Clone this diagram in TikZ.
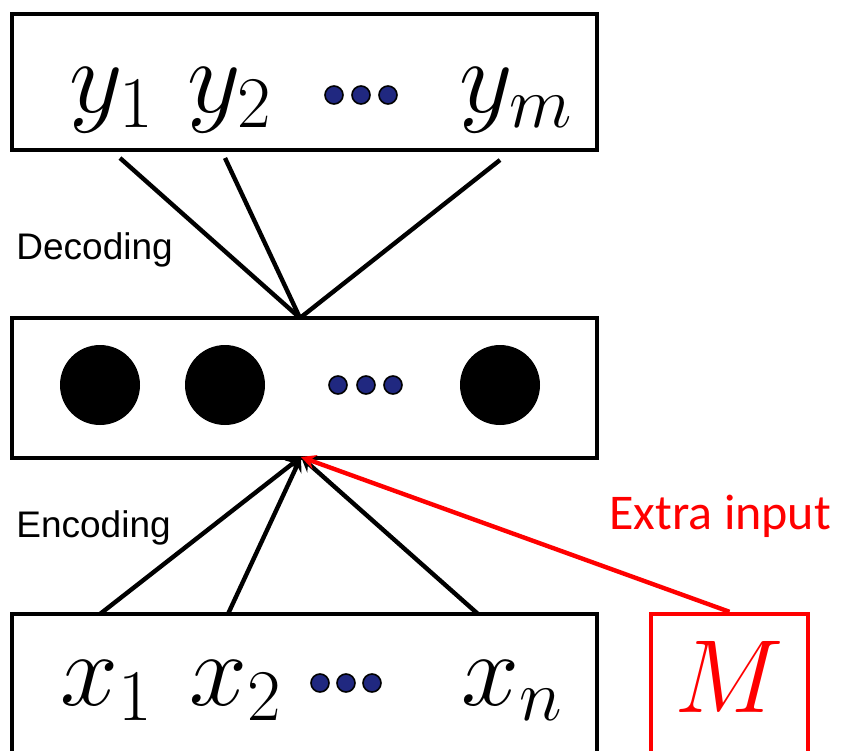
\RequirePackage{fix-cm}
\documentclass[tikz,border=0pt]{standalone}
\usepackage{fontspec}
\newfontfamily\labelfont{Liberation Sans}
\newfontfamily\extrafont{Carlito}
\usepackage{tikz}

\definecolor{dotblue}{RGB}{32,40,128}

\tikzset{
  layer/.style={draw, line width=2.4pt, minimum width=292.5pt, minimum height=68pt, inner sep=0pt},
  unit/.style={circle, fill=black, minimum size=40pt, inner sep=0pt},
  smalldot/.style={circle, draw=black, line width=0.8pt, fill=dotblue, minimum size=9pt, inner sep=0pt},
  sym/.style={font=\fontsize{52}{54}\selectfont, inner sep=0pt, anchor=base},
  link/.style={line width=2.2pt},
  tag/.style={font=\labelfont\fontsize{18.5}{20}\selectfont, anchor=west, inner sep=0pt},
}

\begin{document}
\begin{tikzpicture}[>=stealth, x=0.5pt, y=-0.5pt]
  \useasboundingbox (0,0) rectangle (843,751);
  \clip (0,0) rectangle (843,751);

  % Layers
  \node[layer] (out) at (304.5,82) {};
  \node[layer, minimum height=70pt] (hid) at (304.5,388) {};
  \node[layer, minimum height=75pt] (in) at (304.5,689) {};
  \node[layer, draw=red, line width=2.2pt, minimum width=78.5pt, minimum height=75pt] (mbox) at (729.5,689) {};

  % Output symbols
  \node[sym] (y1) at (112,112) {$y_1$};
  \node[sym] (y2) at (230,112) {$y_2$};
  \node[sym] (ym) at (516,112) {$y_m$};
  \foreach \x/\n in {334/a,361/b,388/c}
    \node[smalldot] (yd\n) at (\x,95) {};

  % Hidden units
  \node[unit] (h1) at (100,385) {};
  \node[unit] (h2) at (225,385) {};
  \node[unit] (hm) at (500,385) {};
  \foreach \x/\n in {338/a,366/b,393/c}
    \node[smalldot] (hd\n) at (\x,385) {};

  % Input symbols
  \node[sym] (x1) at (107,705) {$x_1$};
  \node[sym] (x2) at (236,705) {$x_2$};
  \node[sym] (xn) at (512,705) {$x_n$};
  \foreach \x/\n in {320/a,346/b,372/c}
    \node[smalldot] (xd\n) at (\x,683) {};
  \node[sym, text=red] (mlabel) at (729,712) {$M$};

  % Connectors
  \coordinate (top) at (300,318);
  \coordinate (bot) at (301,457);
  \coordinate (d1) at (120,158);
  \coordinate (d2) at (225,158);
  \coordinate (dm) at (500,160);
  \coordinate (e1) at (100,614);
  \coordinate (e2) at (228,614);
  \coordinate (en) at (478,614);
  \foreach \p in {d1,d2,dm}
    \draw[link] (\p) -- (top);
  \foreach \p in {e1,e2,en}
    \draw[link,->] (\p) -- (bot);
  \draw[link,->,red] (mbox.north) -- (bot);

  % Labels
  \node[tag] (dec) at (16,250) {Decoding};
  \node[tag] (enc) at (16,528) {Encoding};
  \node[tag, font=\extrafont\fontsize{25}{27}\selectfont, text=red] (extra) at (609,516) {Extra input};
\end{tikzpicture}
\end{document}
